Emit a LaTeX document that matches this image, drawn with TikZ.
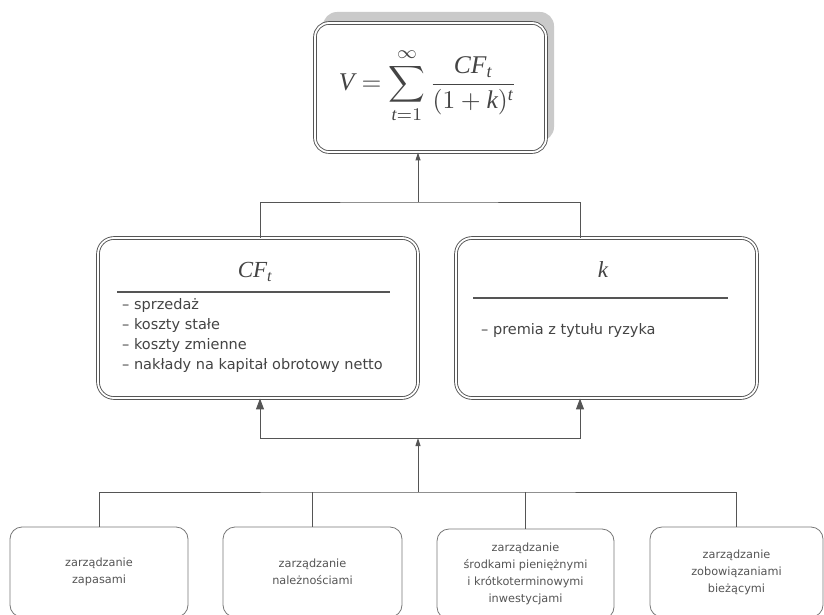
\documentclass[tikz,border=0pt]{standalone}
\usepackage{fontspec}
\setmainfont{Liberation Serif}
\newfontfamily\sansv{DejaVu Sans}
\usetikzlibrary{arrows.meta,shadows,calc}
\definecolor{ln}{HTML}{555555}
\definecolor{tx}{HTML}{444444}
\definecolor{txl}{HTML}{555555}
\begin{document}
\begin{tikzpicture}[x=1pt,y=-1pt,
  conn/.style={draw=ln, line width=1pt},
  arrb/.style={conn, -{Triangle[width=8pt,length=11pt]}},
  arrs/.style={conn, -{Triangle[width=5pt,length=8pt]}},
  dbox/.style={draw=ln, line width=0.9pt, double=white, double distance=1.8pt,
    rounded corners=16pt, fill=white, inner sep=0pt},
  topbox/.style={dbox, rounded corners=14pt,
    drop shadow={shadow xshift=8pt, shadow yshift=11pt, fill=black!28, opacity=0.75}},
  bbox/.style={draw=ln!80, line width=0.8pt, rounded corners=12pt, fill=white,
    minimum height=90pt, inner sep=0pt, align=center, text=txl,
    font=\sansv\fontsize{11.3}{17}\selectfont},
  ttl/.style={inner sep=0pt, text=tx, font=\fontsize{23}{27}\selectfont},
  lst/.style={inner sep=0pt, align=left, text=tx, font=\sansv\fontsize{14.5}{20}\selectfont},
  rule/.style={draw=ln, line width=1.6pt}
]
\useasboundingbox (0,0) rectangle (824,615);
\clip (0,0) rectangle (824,615);

% top formula box
\node[topbox, minimum width=231pt, minimum height=129pt] (top) at (430.5,87.5) {};
\node[inner sep=0pt, text=tx] (formula) at (428,86)
  {\scalebox{2.55}{$\displaystyle \mathit{V} = \sum_{\mathit{t}=1}^{\infty}\frac{\mathit{CF}_{\mathit{t}}}{(1+\mathit{k})^{\mathit{t}}}$}};

% CF box
\node[dbox, minimum width=320pt, minimum height=160pt] (cf) at (258,318) {};
\node[ttl] (cft) at (255,272) {$\mathit{CF}_{\mathit{t}}$};
\draw[rule] (117,292) -- (390,292);
\node[lst, anchor=north west] (cfl) at (122,298)
  {– sprzedaż\\– koszty stałe\\– koszty zmienne\\– nakłady na kapitał obrotowy netto};

% k box
\node[dbox, minimum width=301pt, minimum height=160pt] (k) at (606.5,318) {};
\node[ttl] (kt) at (603,270) {$\mathit{k}$};
\draw[rule] (473,298) -- (728,298);
\node[lst, anchor=west] (kl) at (481,330) {– premia z tytułu ryzyka};

% bottom boxes
\node[bbox, minimum width=178pt] (b1) at (99,572) {zarządzanie\\zapasami};
\node[bbox, minimum width=179pt] (b2) at (312.5,572) {zarządzanie\\należnościami};
\node[bbox, minimum width=177pt] (b3) at (525.5,574) {zarządzanie\\środkami pieniężnymi\\i krótkoterminowymi\\inwestycjami};
\node[bbox, minimum width=173pt] (b4) at (736.5,572) {zarządzanie\\zobowiązaniami\\bieżącymi};

% junctions
\coordinate (j1) at (418,202);
\coordinate (j2) at (418,438);
\coordinate (j3) at (418,492);
\coordinate (cfx) at (260,318);
\coordinate (kx) at (580,318);

% connectors
\draw[conn] (cfx |- cf.north) |- (j1) -| (kx |- k.north);
\draw[arrs] (j1) -- (j1 |- top.south);
\draw[arrb] (j2) -| (cfx |- cf.south);
\draw[arrb] (j2) -| (kx |- k.south);
\draw[arrs] (j3) -- (j2);
\draw[conn] (b1.north) |- (j3) -| (b4.north);
\draw[conn] (b2.north) -- (b2.north |- j3);
\draw[conn] (b3.north) -- (b3.north |- j3);
\end{tikzpicture}
\end{document}
